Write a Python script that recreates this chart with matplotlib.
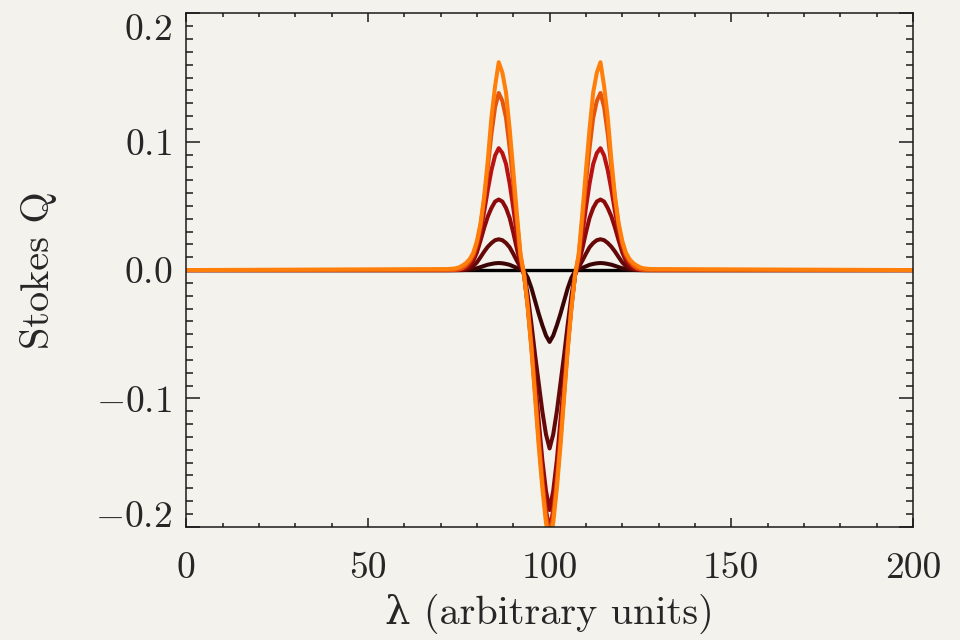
import matplotlib
matplotlib.use("Agg")
import matplotlib.pyplot as plt

plt.rcParams['font.family'] = ['cmr10', 'DejaVu Serif']
plt.rcParams['mathtext.fontset'] = 'cm'

# wavelength grid (only the line core is sampled finely)
lam = [0] + list(range(72, 129)) + [200]

# Stokes Q profiles, weakest field first
q0 = [0.0] * len(lam)
q1 = [0,
      0, 0, 0, 0, 0, 0.0001, 0.0003, 0.0007, 0.0014, 0.0023, 0.0033, 0.0042, 0.0048, 0.0053,
      0.0055, 0.0053, 0.0048, 0.0041, 0.0029, 0.0017, 0.0005, -0.001, -0.006, -0.014, -0.024,
      -0.034, -0.043, -0.051, -0.056,
      -0.051, -0.043, -0.034, -0.024, -0.014, -0.006, -0.001, 0.0005, 0.0017, 0.0029, 0.0041,
      0.0048, 0.0053, 0.0055, 0.0053, 0.0048, 0.0042, 0.0033, 0.0023, 0.0014, 0.0007, 0.0003,
      0.0001, 0, 0, 0, 0, 0,
      0]
q2 = [0,
      0, 0, 0, 0, 0.0002, 0.0005, 0.0014, 0.0031, 0.0060, 0.0101, 0.0144, 0.0182, 0.0211, 0.0233,
      0.0240, 0.0233, 0.0211, 0.0178, 0.0127, 0.0072, 0.0022, -0.003, -0.020, -0.042, -0.066,
      -0.088, -0.110, -0.128, -0.139,
      -0.128, -0.110, -0.088, -0.066, -0.042, -0.020, -0.003, 0.0022, 0.0072, 0.0127, 0.0178,
      0.0211, 0.0233, 0.0240, 0.0233, 0.0211, 0.0182, 0.0144, 0.0101, 0.0060, 0.0031, 0.0014,
      0.0005, 0.0002, 0, 0, 0, 0,
      0]
q3 = [0,
      0, 0, 0, 0.0001, 0.0004, 0.0011, 0.0033, 0.0072, 0.0138, 0.0231, 0.0330, 0.0418, 0.0484, 0.0534,
      0.0550, 0.0534, 0.0484, 0.0407, 0.0292, 0.0165, 0.0050, -0.004, -0.026, -0.054, -0.085,
      -0.117, -0.148, -0.172, -0.187,
      -0.172, -0.148, -0.117, -0.085, -0.054, -0.026, -0.004, 0.0050, 0.0165, 0.0292, 0.0407,
      0.0484, 0.0534, 0.0550, 0.0534, 0.0484, 0.0418, 0.0330, 0.0231, 0.0138, 0.0072, 0.0033,
      0.0011, 0.0004, 0.0001, 0, 0, 0,
      0]
q4 = [0,
      0, 0, 0.0001, 0.0003, 0.0010, 0.0024, 0.0052, 0.0095, 0.0181, 0.0304, 0.0456, 0.0627, 0.0779, 0.0893,
      0.0950, 0.0912, 0.0827, 0.0675, 0.0485, 0.0276, 0.0081, -0.004, -0.028, -0.058, -0.092,
      -0.127, -0.160, -0.187, -0.203,
      -0.187, -0.160, -0.127, -0.092, -0.058, -0.028, -0.004, 0.0081, 0.0276, 0.0485, 0.0675,
      0.0827, 0.0912, 0.0950, 0.0893, 0.0779, 0.0627, 0.0456, 0.0304, 0.0181, 0.0095, 0.0052,
      0.0024, 0.0010, 0.0003, 0.0001, 0, 0,
      0]
q5 = [0,
      0, 0.0001, 0.0001, 0.0006, 0.0015, 0.0036, 0.0069, 0.0117, 0.0207, 0.0345, 0.0552, 0.0800, 0.1063, 0.1270,
      0.1380, 0.1318, 0.1187, 0.0952, 0.0676, 0.0386, 0.0110, -0.004, -0.029, -0.060, -0.096,
      -0.132, -0.165, -0.192, -0.207,
      -0.192, -0.165, -0.132, -0.096, -0.060, -0.029, -0.004, 0.0110, 0.0386, 0.0676, 0.0952,
      0.1187, 0.1318, 0.1380, 0.1270, 0.1063, 0.0800, 0.0552, 0.0345, 0.0207, 0.0117, 0.0069,
      0.0036, 0.0015, 0.0006, 0.0001, 0.0001, 0,
      0]
q6 = [0,
      0.0008, 0.0010, 0.0013, 0.0020, 0.0035, 0.0055, 0.0085, 0.0135, 0.0227, 0.0365, 0.0575, 0.0859, 0.1191, 0.1434,
      0.1620, 0.1539, 0.1385, 0.1102, 0.0778, 0.0437, 0.0122, -0.004, -0.030, -0.062, -0.099,
      -0.137, -0.170, -0.197, -0.212,
      -0.197, -0.170, -0.137, -0.099, -0.062, -0.030, -0.004, 0.0122, 0.0437, 0.0778, 0.1102,
      0.1385, 0.1539, 0.1620, 0.1434, 0.1191, 0.0859, 0.0575, 0.0365, 0.0227, 0.0135, 0.0085,
      0.0055, 0.0035, 0.0020, 0.0013, 0.0010, 0.0008,
      0]

profiles = [q1, q2, q3, q4, q5, q6]
colors = ['#3c0505', '#640808', '#8c0a0a', '#b81212', '#e4540a', '#ff7f0a']

xticks = [0, 50, 100, 150, 200]
yticks = [-0.2, -0.1, 0.0, 0.1, 0.2]
ylabels = ['$-0.2$', '$-0.1$', '$0.0$', '$0.1$', '$0.2$']

bg = '#f4f2ed'
ink = '#262626'
fig = plt.figure(figsize=(9.6, 6.4), dpi=100, facecolor=bg)
ax = fig.add_axes([0.194, 0.177, 0.757, 0.802], facecolor=bg)

ax.plot(lam, q0, color='black', lw=2.4)
for q, c in zip(profiles, colors):
    ax.plot(lam, q, color=c, lw=2.9, solid_joinstyle='round')

ax.set_xlim(0, 200)
ax.set_ylim(-0.2, 0.2)

ax.set_xticks(xticks)
ax.set_xticklabels([str(t) for t in xticks])
ax.set_xticks(range(0, 201, 10), minor=True)
ax.set_yticks(yticks)
ax.set_yticklabels(ylabels)
ax.set_yticks([i / 100 for i in range(-20, 21)], minor=True)

ax.tick_params(axis='both', which='both', direction='in', top=True, right=True,
               colors='#1a1a1a', labelcolor=ink, width=1.1)
ax.tick_params(axis='x', which='major', length=6.5, pad=18, labelsize=27)
ax.tick_params(axis='x', which='minor', length=3.2)
ax.tick_params(axis='y', which='major', length=10, pad=10, labelsize=27)
ax.tick_params(axis='y', which='minor', length=5)

# keep the end labels inside the frame
ylab = ax.get_yticklabels()
ylab[-1].set_va('top')
ylab[0].set_va('baseline')

for s in ax.spines.values():
    s.set_linewidth(1.1)
    s.set_color('#1a1a1a')

ax.set_ylabel('Stokes Q', fontsize=29, color=ink)
ax.yaxis.set_label_coords(-0.178, 0.5)
ax.set_xlabel('λ (arbitrary units)', fontsize=29, color=ink)
ax.xaxis.set_label_coords(0.5, -0.13)

fig.savefig('out.png', dpi=100, facecolor=bg)
